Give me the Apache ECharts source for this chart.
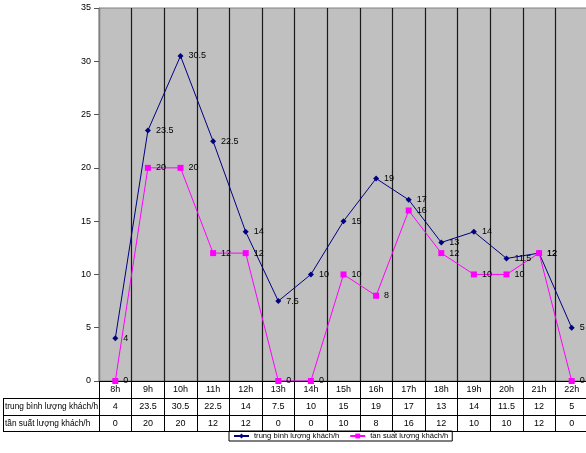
<!DOCTYPE html>
<html lang="vi">
<head>
  <meta charset="UTF-8">
  <title>lượng khách theo giờ</title>
  <script src="https://cdn.jsdelivr.net/npm/echarts@6/dist/echarts.min.js"></script>
  <style>
    body { margin: 0; background: #fff; }
    #chart { width: 586px; height: 453px; }
  </style>
</head>
<body>
  <div id="chart"></div>
  <script>
    // số liệu đọc từ bảng
    const hours = ['8h', '9h', '10h', '11h', '12h', '13h', '14h', '15h', '16h', '17h', '18h', '19h', '20h', '21h', '22h'];
    const avgGuests = [4, 23.5, 30.5, 22.5, 14, 7.5, 10, 15, 19, 17, 13, 14, 11.5, 12, 5];
    const freqGuests = [0, 20, 20, 12, 12, 0, 0, 10, 8, 16, 12, 10, 10, 12, 0];
    const seriesNames = ['trung bình lượng khách/h', 'tần suất lượng khách/h'];
    const yMax = 35;
    const yStep = 5;

    const font = 'Liberation Sans, Arial, sans-serif';
    const rowH = 17;        // chiều cao một dòng của bảng
    const gridLeft = 99, gridTop = 8, gridH = 373;
    const baseY = gridTop + gridH;

    // trục phụ để vẽ các dòng bảng dữ liệu bên dưới biểu đồ
    function tableAxis(offset, values, name) {
      return {
        type: 'category',
        data: hours,
        position: 'bottom',
        offset: offset,
        name: name ? '{h|' + name + '}' : '',
        nameLocation: 'start',
        nameGap: 2,
        nameTextStyle: {
          align: 'right', verticalAlign: 'top', padding: [5, 0, 0, 0],
          rich: { h: { width: 92, align: 'left', fontFamily: font, fontSize: 8.3, color: '#000' } }
        },
        axisLine: { show: true, lineStyle: { color: '#000', width: 1 } },
        axisTick: { show: values != null, interval: 0, length: rowH, lineStyle: { color: '#000' } },
        axisLabel: {
          show: values != null, interval: 0, margin: 4,
          fontFamily: font, fontSize: 9, color: '#000',
          formatter: (v, i) => values ? String(values[i]) : ''
        },
        splitLine: { show: false }
      };
    }

    const chart = echarts.init(document.getElementById('chart'));
    chart.setOption({
      animation: false,
      grid: {
        left: gridLeft, top: gridTop, width: 489, height: gridH,
        outerBoundsMode: 'none', containLabel: false,
        show: true, backgroundColor: '#c0c0c0', borderColor: '#808080', borderWidth: 1
      },
      legend: {
        left: 229, top: 431,
        padding: [1, 4, 1, 4],
        itemWidth: 15, itemHeight: 6, itemGap: 10,
        borderColor: '#000', borderWidth: 1,
        textStyle: { fontFamily: font, fontSize: 7.6, color: '#000' },
        data: seriesNames
      },
      xAxis: [
        {
          type: 'category',
          data: hours,
          position: 'bottom',
          axisLine: { show: true, lineStyle: { color: '#000', width: 1 } },
          axisTick: { show: true, interval: 0, length: rowH, lineStyle: { color: '#000' } },
          axisLabel: { interval: 0, margin: 4, fontFamily: font, fontSize: 9, color: '#000' },
          splitLine: { show: true, interval: 0, lineStyle: { color: '#1a1a1a', width: 1.2 } }
        },
        tableAxis(rowH, avgGuests, seriesNames[0]),
        tableAxis(rowH * 2, freqGuests, seriesNames[1]),
        tableAxis(rowH * 3 - 1, null, '')
      ],
      yAxis: {
        type: 'value',
        min: 0, max: yMax, interval: yStep,
        axisLine: { show: true, lineStyle: { color: '#808080' } },
        axisTick: { show: true, length: 5, lineStyle: { color: '#555' } },
        axisLabel: { margin: 8, fontFamily: font, fontSize: 9, color: '#000' },
        splitLine: { show: false }
      },
      graphic: [
        // khung cột tiêu đề của bảng
        { type: 'line', shape: { x1: 3.5, y1: baseY + rowH, x2: 3.5, y2: baseY + rowH * 3 - 1 }, style: { stroke: '#000', lineWidth: 1 } },
        { type: 'line', shape: { x1: 3, y1: baseY + rowH + 0.5, x2: gridLeft, y2: baseY + rowH + 0.5 }, style: { stroke: '#000', lineWidth: 1 } },
        { type: 'line', shape: { x1: 3, y1: baseY + rowH * 2 + 0.5, x2: gridLeft, y2: baseY + rowH * 2 + 0.5 }, style: { stroke: '#000', lineWidth: 1 } },
        { type: 'line', shape: { x1: 3, y1: baseY + rowH * 3 - 0.5, x2: gridLeft, y2: baseY + rowH * 3 - 0.5 }, style: { stroke: '#000', lineWidth: 1 } },
        { type: 'line', shape: { x1: gridLeft + 0.5, y1: baseY + rowH, x2: gridLeft + 0.5, y2: baseY + rowH * 3 - 1 }, style: { stroke: '#000', lineWidth: 1 } }
      ],
      series: [
        {
          name: seriesNames[0],
          type: 'line',
          data: avgGuests,
          symbol: 'diamond',
          symbolSize: 6,
          itemStyle: { color: '#000080' },
          lineStyle: { color: '#000080', width: 1 },
          label: { show: true, position: 'right', distance: 5, fontFamily: font, fontSize: 9, color: '#000' }
        },
        {
          name: seriesNames[1],
          type: 'line',
          data: freqGuests,
          symbol: 'rect',
          symbolSize: 6,
          itemStyle: { color: '#ff00ff' },
          lineStyle: { color: '#ff00ff', width: 1 },
          label: { show: true, position: 'right', distance: 5, fontFamily: font, fontSize: 9, color: '#000' }
        }
      ]
    });
  </script>
</body>
</html>
